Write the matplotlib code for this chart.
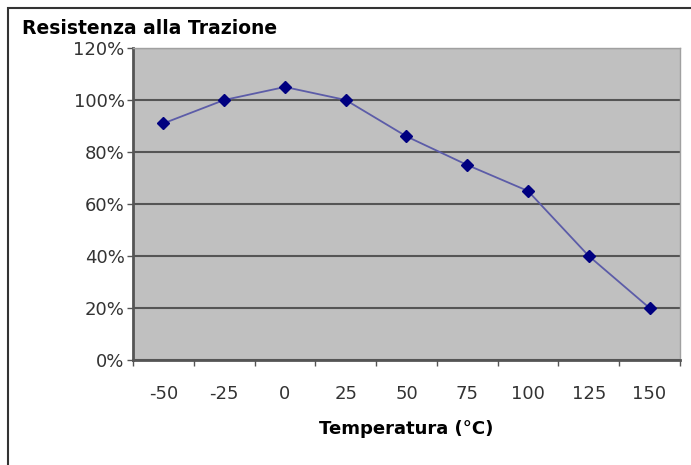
import matplotlib.pyplot as plt
from matplotlib.patches import Rectangle
from matplotlib.ticker import FuncFormatter

temps = ["-50", "-25", "0", "25", "50", "75", "100", "125", "150"]
resist = [91, 100, 105, 100, 86, 75, 65, 40, 20]

plt.rcParams["font.family"] = ["DejaVu Sans"]

fig = plt.figure(figsize=(6.91, 4.65), dpi=100)
ax = fig.add_axes([0.1925, 0.2258, 0.7915, 0.671])

# gray plot area with dark grid lines
ax.set_facecolor("#c0c0c0")
x = list(range(len(temps)))
ax.plot(x, resist, color="#5c5ca8", lw=1.3, marker="D", ms=6.5,
        mfc="#000080", mec="#000080", zorder=3)

ax.set_xlim(-0.5, len(temps) - 0.5)
ax.set_ylim(0, 120)
ax.set_yticks(range(0, 121, 20))
ax.yaxis.set_major_formatter(FuncFormatter(lambda v, p: f"{int(v)}%"))
ax.set_xticks(x)
ax.set_xticklabels(temps)
ax.set_xticks([i - 0.5 for i in range(len(temps) + 1)], minor=True)
ax.tick_params(axis="x", which="major", length=0, pad=18, labelsize=13, colors="#333333")
ax.tick_params(axis="x", which="minor", length=4, width=1, color="#555555", direction="out")
ax.tick_params(axis="y", length=4, width=1, color="#555555", labelsize=13, labelcolor="#333333", pad=2)
ax.grid(axis="y", color="#555555", lw=1.5)
ax.set_axisbelow(True)

for s in ["left", "bottom"]:
    ax.spines[s].set_color("#555555")
    ax.spines[s].set_linewidth(2)
for s in ["top", "right"]:
    ax.spines[s].set_color("#a0a0a0")
    ax.spines[s].set_linewidth(1)

ax.set_xlabel("Temperatura (°C)", fontsize=13, fontweight="bold", labelpad=12)
fig.text(22 / 691, 1 - 28 / 465, "Resistenza alla Trazione", fontsize=13.5,
         fontweight="bold", va="center", ha="left")

# chart border
fig.patches.append(Rectangle((8 / 691, -0.01), 1.0, 1 - 8 / 465 + 0.01,
                             transform=fig.transFigure, fill=False,
                             edgecolor="#333333", lw=1.5))

fig.savefig("out.png", dpi=100)
